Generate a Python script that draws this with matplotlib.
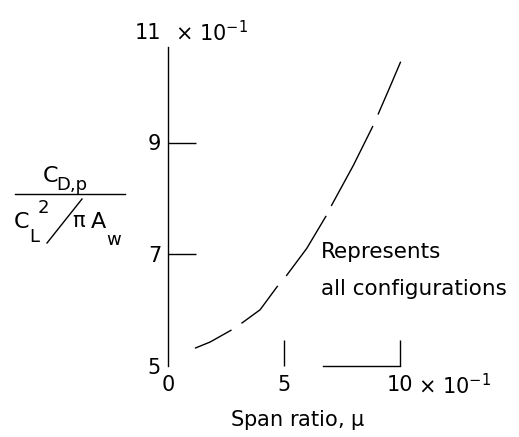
import matplotlib
matplotlib.use("Agg")
import matplotlib.pyplot as plt
from matplotlib.lines import Line2D

# --- Dados (eixos em unidades de 10^-1) ---
span_ratio = [1.16, 1.81, 2.75, 3.18, 3.97, 4.75, 5.12, 5.98, 6.84, 7.06, 7.99, 8.85, 9.07, 9.57, 10.03]
drag_ratio = [5.31, 5.42, 5.64, 5.76, 6.00, 6.44, 6.62, 7.10, 7.70, 7.88, 8.59, 9.31, 9.52, 10.00, 10.45]

x_ticks = [0, 5, 10]
x_tick_labels = ["0", "5", "10"]
y_ticks = [5, 7, 9, 11]
y_tick_labels = ["5", "7", "9", "11"]

nota = ["Represents", "all configurations"]

W, H = 519, 437

plt.rcParams["font.family"] = ["DejaVu Sans"]
plt.rcParams["mathtext.default"] = "regular"

fig = plt.figure(figsize=(W / 100, H / 100), dpi=100)


def fx(x):
    return x / W


def fy(y):
    return 1 - y / H


# eixo: x de 0 a 10 entre os pixels 168 e 400; y de 5 a 11 entre 365.5 e 31
ax = fig.add_axes([fx(168), fy(365.5), 232 / W, 334.5 / H])
ax.set_xlim(0, 10)
ax.set_ylim(5, 11)

for s in ["top", "right"]:
    ax.spines[s].set_visible(False)
ax.spines["left"].set_bounds(5, 10.72)
ax.spines["bottom"].set_bounds(6.7, 10)
for s in ["left", "bottom"]:
    ax.spines[s].set_linewidth(1.0)

ax.set_xticks(x_ticks)
ax.set_xticklabels(x_tick_labels)
ax.set_yticks(y_ticks)
ax.set_yticklabels(y_tick_labels)
ax.tick_params(axis="y", direction="in", length=20, width=1.0, pad=5, labelsize=15)
ax.tick_params(axis="x", direction="in", length=19, width=1.0, pad=7, labelsize=15)

# sem traço de marcação em 5 e 11 (y) e em 0 (x)
yt = ax.yaxis.get_major_ticks()
yt[0].tick1line.set_visible(False)
yt[-1].tick1line.set_visible(False)
ax.xaxis.get_major_ticks()[0].tick1line.set_visible(False)

# curva tracejada longa
ax.plot(span_ratio, drag_ratio, color="black", lw=1.0, clip_on=False,
        linestyle=(0, (29.5, 8.6, 38, 9.4, 52, 8, 65, 9, 60, 8)))

# multiplicadores das escalas
ax.text(0.3, 11, r"$\times$ 10$^{-1}$", fontsize=15, ha="left", va="center_baseline",
        clip_on=False)
ax.text(10.78, 4.87, r"$\times$ 10$^{-1}$", fontsize=15, ha="left", va="top",
        clip_on=False)

ax.text(6.6, 6.93, nota[0], fontsize=15.5, ha="left", va="baseline")
ax.text(6.6, 6.26, nota[1], fontsize=15.5, ha="left", va="baseline")

# rótulo do eixo x
fig.text(fx(298), fy(420), r"Span ratio, $\mu$", fontsize=15, ha="center", va="center")

# rótulo do eixo y: C_D,p / (C_L^2 / pi A_w)
fig.text(fx(43), fy(182), "C", fontsize=16, ha="left", va="baseline")
fig.text(fx(56), fy(190), "D,p", fontsize=13, ha="left", va="baseline")
fig.add_artist(Line2D([fx(15), fx(125)], [fy(193.5), fy(193.5)], color="black", lw=1.0))
fig.text(fx(14), fy(228), "C", fontsize=16, ha="left", va="baseline")
fig.text(fx(29), fy(242), "L", fontsize=13, ha="left", va="baseline")
fig.text(fx(38), fy(213), "2", fontsize=13, ha="left", va="baseline")
fig.add_artist(Line2D([fx(47), fx(82)], [fy(243), fy(199)], color="black", lw=1.0))
fig.text(fx(72), fy(227), r"$\pi$", fontsize=15, ha="left", va="baseline")
fig.text(fx(91), fy(228), "A", fontsize=16, ha="left", va="baseline")
fig.text(fx(106), fy(245), "w", fontsize=13, ha="left", va="baseline")

fig.savefig("out.png", dpi=100, facecolor="white")
